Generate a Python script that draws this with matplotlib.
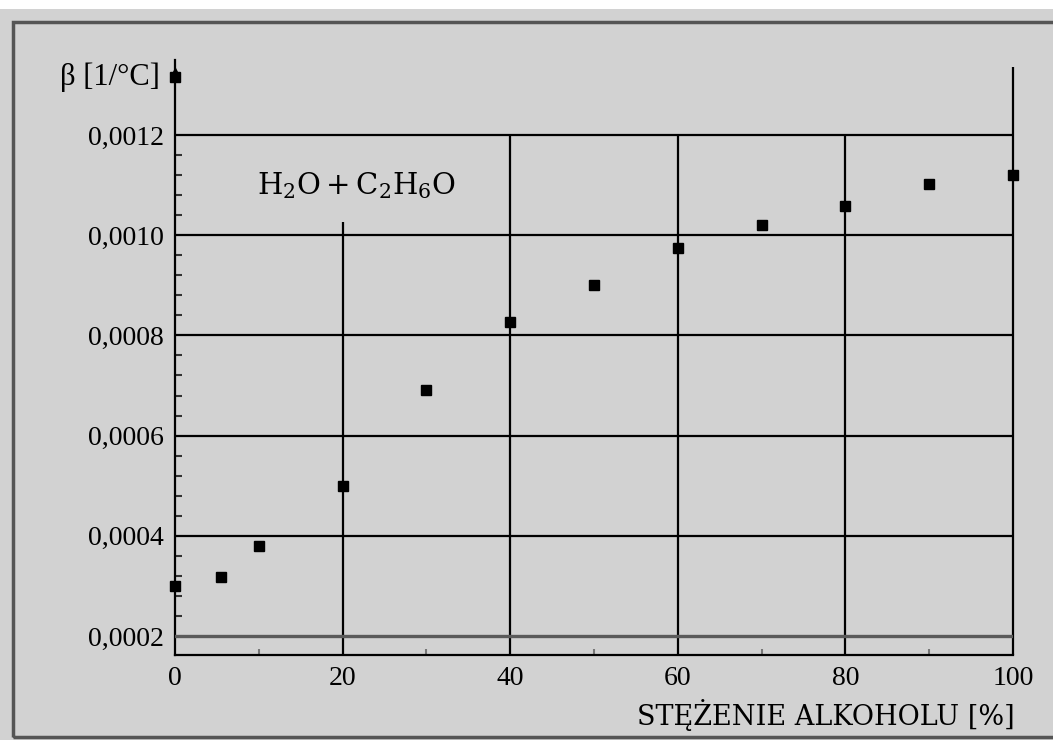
import matplotlib.pyplot as plt
from matplotlib.patches import Rectangle

# stezenie alkoholu [%] i wspolczynnik rozszerzalnosci beta [1/C]
conc = [0, 5.5, 10, 20, 30, 40, 50, 60, 70, 80, 90, 100]
beta = [0.00030, 0.000318, 0.00038, 0.00050, 0.000692, 0.000826,
        0.00090, 0.000974, 0.00102, 0.001058, 0.001102, 0.00112]

y_ticks = [0.0002, 0.0004, 0.0006, 0.0008, 0.0010, 0.0012]
y_labels = ['0,0002', '0,0004', '0,0006', '0,0008', '0,0010', '0,0012']
x_ticks = [0, 20, 40, 60, 80, 100]

BG = '#d2d2d2'
SERIF = ['Liberation Serif', 'DejaVu Serif']


def main():
    plt.rcParams['mathtext.fontset'] = 'dejavuserif'
    fig = plt.figure(figsize=(10.53, 7.4), dpi=100, facecolor=BG)

    # white strip on top and dark frame like the original screenshot
    fig.patches.append(Rectangle((0, 0.988), 1, 0.012, transform=fig.transFigure,
                                 facecolor='white', edgecolor='none', zorder=0))
    fig.patches.append(Rectangle((0.0125, 0.004), 1.1, 0.966, transform=fig.transFigure,
                                 facecolor='none', edgecolor='#555555', linewidth=2.5, zorder=0))

    ax = fig.add_axes([0.1662, 0.1149, 0.7958, 0.8041])
    ax.set_facecolor(BG)
    ax.set_xlim(0, 100)
    ax.set_ylim(0.000162, 0.00135)
    ymin = ax.get_ylim()[0]

    ax.spines['top'].set_visible(False)
    ax.spines['right'].set_visible(False)
    for s in ['left', 'bottom']:
        ax.spines[s].set_linewidth(1.6)

    # grid
    for y in y_ticks:
        col = '#5a5a5a' if y == 0.0002 else 'black'
        lw = 2.4 if y == 0.0002 else 1.6
        ax.axhline(y, color=col, linewidth=lw, zorder=3)
    ax.vlines(20, ymin, 0.001026, color='black', linewidth=1.6, zorder=1)
    for x in x_ticks[2:-1]:
        ax.vlines(x, ymin, y_ticks[-1], color='black', linewidth=1.6, zorder=1)
    ax.vlines(x_ticks[-1], ymin, 0.001335, color='black', linewidth=1.6, zorder=1,
              clip_on=False)

    ax.set_xticks(x_ticks)
    ax.set_xticks([10, 30, 50, 70, 90], minor=True)
    ax.set_yticks(y_ticks)
    ax.set_yticklabels(y_labels)
    ax.set_yticks([0.00024, 0.00028, 0.00032, 0.00036, 0.00044, 0.00048, 0.00052, 0.00056,
                   0.00064, 0.00068, 0.00072, 0.00076, 0.00084, 0.00088, 0.00092, 0.00096,
                   0.00104, 0.00108, 0.00112, 0.00116], minor=True)
    ax.tick_params(axis='both', which='major', length=0, pad=8, labelsize=20)
    ax.tick_params(axis='y', which='minor', direction='in', length=5, width=1.5, color='#333333')
    ax.tick_params(axis='x', which='minor', direction='in', length=4, width=1.5, color='#777777')
    for lab in ax.get_xticklabels() + ax.get_yticklabels():
        lab.set_family(SERIF)

    ax.plot(conc, beta, 's', color='black', markersize=6.5, zorder=5, clip_on=False)

    # arrow head on the y axis
    ax.plot([0], [0.979], marker='^', color='black', markersize=5.5, transform=ax.transAxes,
            clip_on=False, zorder=6)
    ax.plot([0], [0.971], marker='s', color='black', markersize=6.5, transform=ax.transAxes,
            clip_on=False, zorder=6)

    ax.text(21.7, 0.0011, r'$\mathrm{H_2O + C_2H_6O}$', fontsize=21, ha='center', va='center',
            zorder=2)

    fig.text(0.152, 0.895, 'β [1/°C]', fontsize=22, ha='right', va='center', family=SERIF)
    fig.text(0.964, 0.034, 'STĘŻENIE ALKOHOLU [%]', fontsize=19.5, ha='right', va='center',
             family=['DejaVu Serif'])

    fig.savefig('out.png', dpi=100, facecolor=BG)


if __name__ == '__main__':
    main()
